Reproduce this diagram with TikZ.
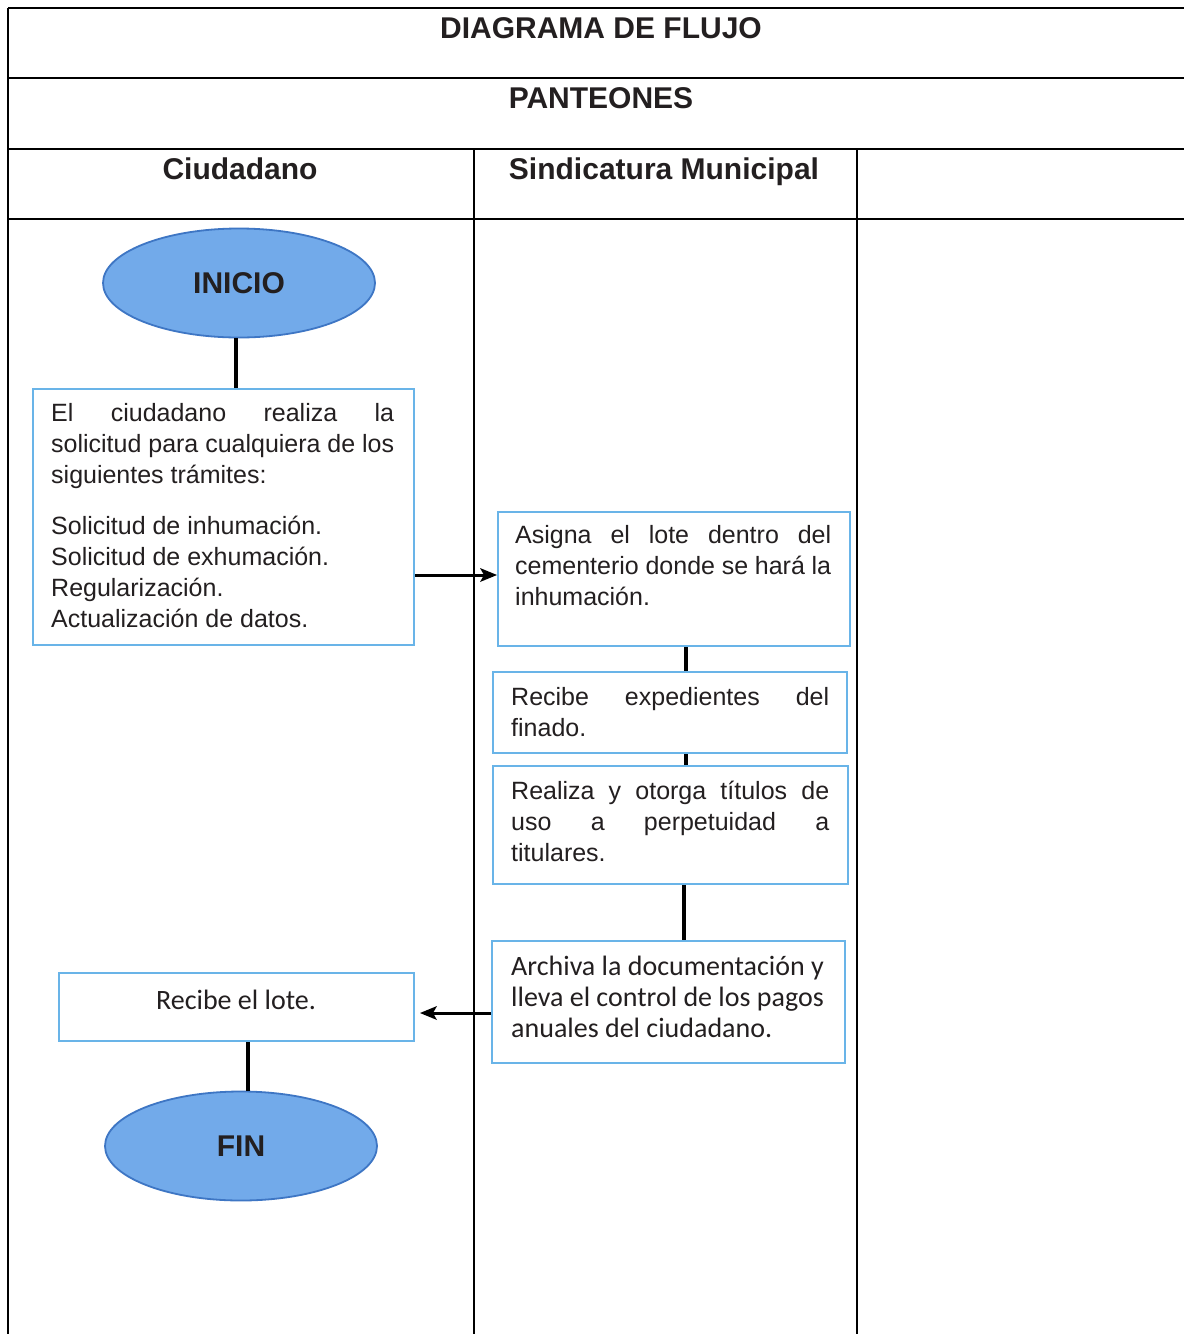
\documentclass[tikz,border=0pt]{standalone}
\usepackage{fontspec}
\setmainfont{Liberation Sans}
\newfontfamily\calib{Carlito}
\usetikzlibrary{shapes.geometric,arrows.meta}
\definecolor{elfill}{RGB}{114,170,234}
\definecolor{eldraw}{RGB}{62,118,196}
\definecolor{boxblue}{RGB}{105,180,232}
\definecolor{ink}{RGB}{35,31,32}
\begin{document}
\begin{tikzpicture}[x=1pt,y=-1pt,
  grid/.style={line width=1.5pt, black},
  term/.style={ellipse, fill=elfill, draw=eldraw, line width=1.8pt, minimum width=272pt, minimum height=109pt, inner sep=0pt, font=\bfseries\fontsize{30}{36}\selectfont, text=ink},
  box/.style={draw=boxblue, line width=2pt, anchor=north west, inner sep=0pt},
  txt/.style={anchor=north west, inner sep=0pt, align=left, text=ink, font=\fontsize{25}{31}\selectfont},
  ctxt/.style={inner sep=0pt, align=left, text=ink, font=\calib\fontsize{28}{31}\selectfont},
  head/.style={anchor=base, inner sep=0pt, font=\bfseries\fontsize{30}{36}\selectfont, text=ink},
  conn/.style={line width=3.2pt, black},
  flowline/.style={line width=3pt, black},
  flowhead/.style={fill=black, draw=none}
]
\useasboundingbox (0,0) rectangle (1184,1334);
\fill[white] (0,0) rectangle (1184,1334);

% table grid
\draw[grid] (8,8) -- (1184,8);
\draw[grid] (8,78) -- (1184,78);
\draw[grid] (8,149) -- (1184,149);
\draw[grid] (8,219) -- (1184,219);
\draw[grid] (8,8) -- (8,1334);
\draw[grid] (474,149) -- (474,1334);
\draw[grid] (857,149) -- (857,1334);

% headers
\node[head] (h1) at (601,38) {DIAGRAMA DE FLUJO};
\node[head] (h2) at (601,108) {PANTEONES};
\node[head] (h3) at (240,179) {Ciudadano};
\node[head] (h4) at (664,179) {Sindicatura Municipal};

% terminals
\node[term] (inicio) at (239,283) {INICIO};
\node[term] (fin) at (241,1146) {FIN};

% boxes
\node[box, minimum width=381pt, minimum height=256pt] (b1) at (32,388) {};
\node[box, minimum width=352pt, minimum height=134pt] (b2) at (497,511) {};
\node[box, minimum width=354pt, minimum height=81pt] (b3) at (492,671) {};
\node[box, minimum width=355pt, minimum height=118pt] (b4) at (492,765) {};
\node[box, minimum width=353pt, minimum height=122pt] (b5) at (491,940) {};
\node[box, minimum width=355pt, minimum height=68pt] (b6) at (58,972) {};

% box texts
\node[txt] (t1) at (51,403) {\rule{0pt}{18pt}\makebox[343pt][s]{El ciudadano realiza la}\\
\makebox[343pt][s]{solicitud para cualquiera de los}\\
siguientes trámites:\\[20pt]
Solicitud de inhumación.\\
Solicitud de exhumación.\\
Regularización.\\
Actualización de datos.};
\node[txt] (t2) at (515,525) {\rule{0pt}{18pt}\makebox[316pt][s]{Asigna el lote dentro del}\\
\makebox[316pt][s]{cementerio donde se hará la}\\
inhumación.};
\node[txt] (t3) at (511,687) {\rule{0pt}{18pt}\makebox[318pt][s]{Recibe expedientes del}\\
finado.};
\node[txt] (t4) at (511,781) {\rule{0pt}{18pt}\makebox[318pt][s]{Realiza y otorga títulos de}\\
\makebox[318pt][s]{uso a perpetuidad a}\\
titulares.};
\node[ctxt, anchor=north west] (t5) at (511,956) {\rule{0pt}{18pt}Archiva la documentación y\\
lleva el control de los pagos\\
anuales del ciudadano.};
\node[ctxt, anchor=base] (t6) at (236,1009) {Recibe el lote.};

% connectors
\coordinate (k1) at (236,0);
\coordinate (k2) at (0,575);
\coordinate (k3) at (686,0);
\coordinate (k4) at (684,0);
\coordinate (k5) at (0,1013);
\coordinate (k6) at (248,0);
\draw[conn] (inicio.south -| k1) -- (b1.north -| k1);
\draw[conn] (b2.south -| k3) -- (b3.north -| k3);
\draw[conn] (b3.south -| k3) -- (b4.north -| k3);
\draw[conn] (b4.south -| k4) -- (b5.north -| k4);
\draw[conn] (b6.south -| k6) -- (fin.north -| k6);

% arrow b1 -> b2
\coordinate (a1) at (b1.east |- k2);
\coordinate (a2) at (b2.west |- k2);
\draw[flowline] (a1) -- ([xshift=-12pt]a2);
\fill[flowhead] (a2) -- ++(-17,-7) -- ++(4,7) -- ++(-4,7) -- cycle;

% arrow b5 -> b6
\coordinate (a3) at (b5.west |- k5);
\coordinate (a4) at ([xshift=5pt]b6.east |- k5);
\draw[flowline] (a3) -- ([xshift=12pt]a4);
\fill[flowhead] (a4) -- ++(17,-7) -- ++(-4,7) -- ++(4,7) -- cycle;
\end{tikzpicture}
\end{document}
